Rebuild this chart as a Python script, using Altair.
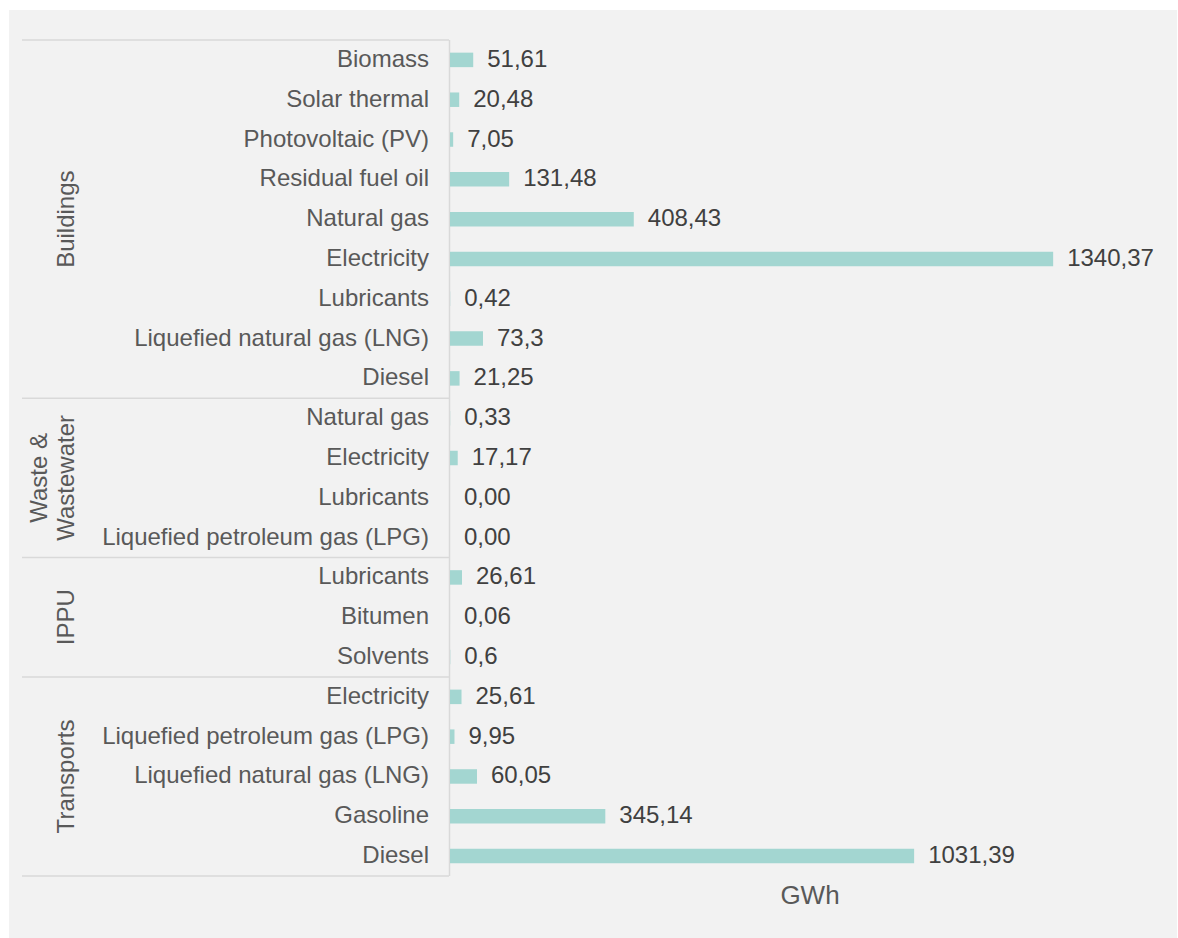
import altair as alt
import pandas as pd

# ---------------- data ----------------
groups = ["Buildings", "Waste &\nWastewater", "IPPU", "Transports"]
categories = [
    ["Biomass", "Solar thermal", "Photovoltaic (PV)", "Residual fuel oil", "Natural gas",
     "Electricity", "Lubricants", "Liquefied natural gas (LNG)", "Diesel"],
    ["Natural gas", "Electricity", "Lubricants", "Liquefied petroleum gas (LPG)"],
    ["Lubricants", "Bitumen", "Solvents"],
    ["Electricity", "Liquefied petroleum gas (LPG)", "Liquefied natural gas (LNG)", "Gasoline", "Diesel"],
]
values = [
    [51.61, 20.48, 7.05, 131.48, 408.43, 1340.37, 0.42, 73.3, 21.25],
    [0.33, 17.17, 0.00, 0.00],
    [26.61, 0.06, 0.6],
    [25.61, 9.95, 60.05, 345.14, 1031.39],
]
value_labels = [
    ["51,61", "20,48", "7,05", "131,48", "408,43", "1340,37", "0,42", "73,3", "21,25"],
    ["0,33", "17,17", "0,00", "0,00"],
    ["26,61", "0,06", "0,6"],
    ["25,61", "9,95", "60,05", "345,14", "1031,39"],
]
unit = "GWh"

# ---------------- tables ----------------
rows = []
i = 0
for g, cats, vals, labs in zip(groups, categories, values, value_labels):
    for c, v, l in zip(cats, vals, labs):
        rows.append({"group": g, "category": c, "value": v, "label": l, "row": i})
        i += 1
df = pd.DataFrame(rows)
n_rows = len(df)

bounds = sorted(set((df.groupby("group", sort=False)["row"].min() - 0.5).tolist() + [n_rows - 0.5]))
sep_df = pd.DataFrame({"b": bounds})
unit_df = pd.DataFrame({"t": [unit]})

FONT = "Liberation Sans"
LABEL_C = "#595959"
VALUE_C = "#404040"
LINE_C = "#d9d9d9"
BAR_C = "#a3d6d1"
FS = 24
LH = 27

yscale = alt.Scale(domain=[-0.5, n_rows - 0.5], reverse=True, nice=False, zero=False)
xscale = alt.Scale(domain=[0, 1600], nice=False)

panel = alt.Chart(unit_df).mark_rect(color="#f2f2f2").encode(
    x=alt.value(-441), x2=alt.value(727), y=alt.value(-30), y2=alt.value(898)
)

seps = alt.Chart(sep_df).mark_rule(color=LINE_C, strokeWidth=1.5).encode(
    y=alt.Y("b:Q", scale=yscale, axis=None),
    x=alt.value(-428), x2=alt.value(-1),
)

axis_line = alt.Chart(unit_df).mark_rule(color=LINE_C, strokeWidth=1.5).encode(
    x=alt.value(-0.5), y=alt.value(0), y2=alt.value(836)
)

bars = alt.Chart(df).mark_rule(color=BAR_C, strokeWidth=14.5).encode(
    y=alt.Y("row:Q", scale=yscale, axis=None),
    x=alt.X("value:Q", scale=xscale, axis=None),
    x2=alt.datum(0),
)

vals_txt = alt.Chart(df).mark_text(
    align="left", baseline="middle", dx=14, font=FONT, fontSize=FS, color=VALUE_C
).encode(
    y=alt.Y("row:Q", scale=yscale, axis=None),
    x=alt.X("value:Q", scale=xscale, axis=None),
    text="label:N",
)

cat_txt = alt.Chart(df).mark_text(
    align="right", baseline="middle", font=FONT, fontSize=FS, color=LABEL_C
).encode(
    y=alt.Y("row:Q", scale=yscale, axis=None),
    x=alt.value(-21),
    text="category:N",
)

# group labels: last line of every label sits in the same column
grp_txt = alt.Chart(df).transform_aggregate(
    mid="mean(row)", groupby=["group"]
).transform_calculate(
    gx=f"-371 - {LH} * (length(split(datum.group, '\\n')) - 1)"
).mark_text(
    angle=270, align="center", baseline="bottom", lineBreak="\n", lineHeight=LH,
    font=FONT, fontSize=FS, color=LABEL_C
).encode(
    y=alt.Y("mid:Q", scale=yscale, axis=None),
    x=alt.X("gx:Q", scale=None, axis=None),
    text="group:N",
)

unit_txt = alt.Chart(unit_df).mark_text(
    align="center", baseline="middle", font=FONT, fontSize=26, color=LABEL_C
).encode(
    x=alt.value(360), y=alt.value(856), text="t:N"
)

chart = alt.layer(
    panel, seps, axis_line, bars, vals_txt, cat_txt, grp_txt, unit_txt
).properties(
    width=720, height=836,
    padding={"left": 450, "top": 40, "right": 8, "bottom": 62},
    autosize="none",
    background="white",
).configure_view(stroke=None)

chart.save("out.html", embed_options={"renderer": "svg", "actions": False})
